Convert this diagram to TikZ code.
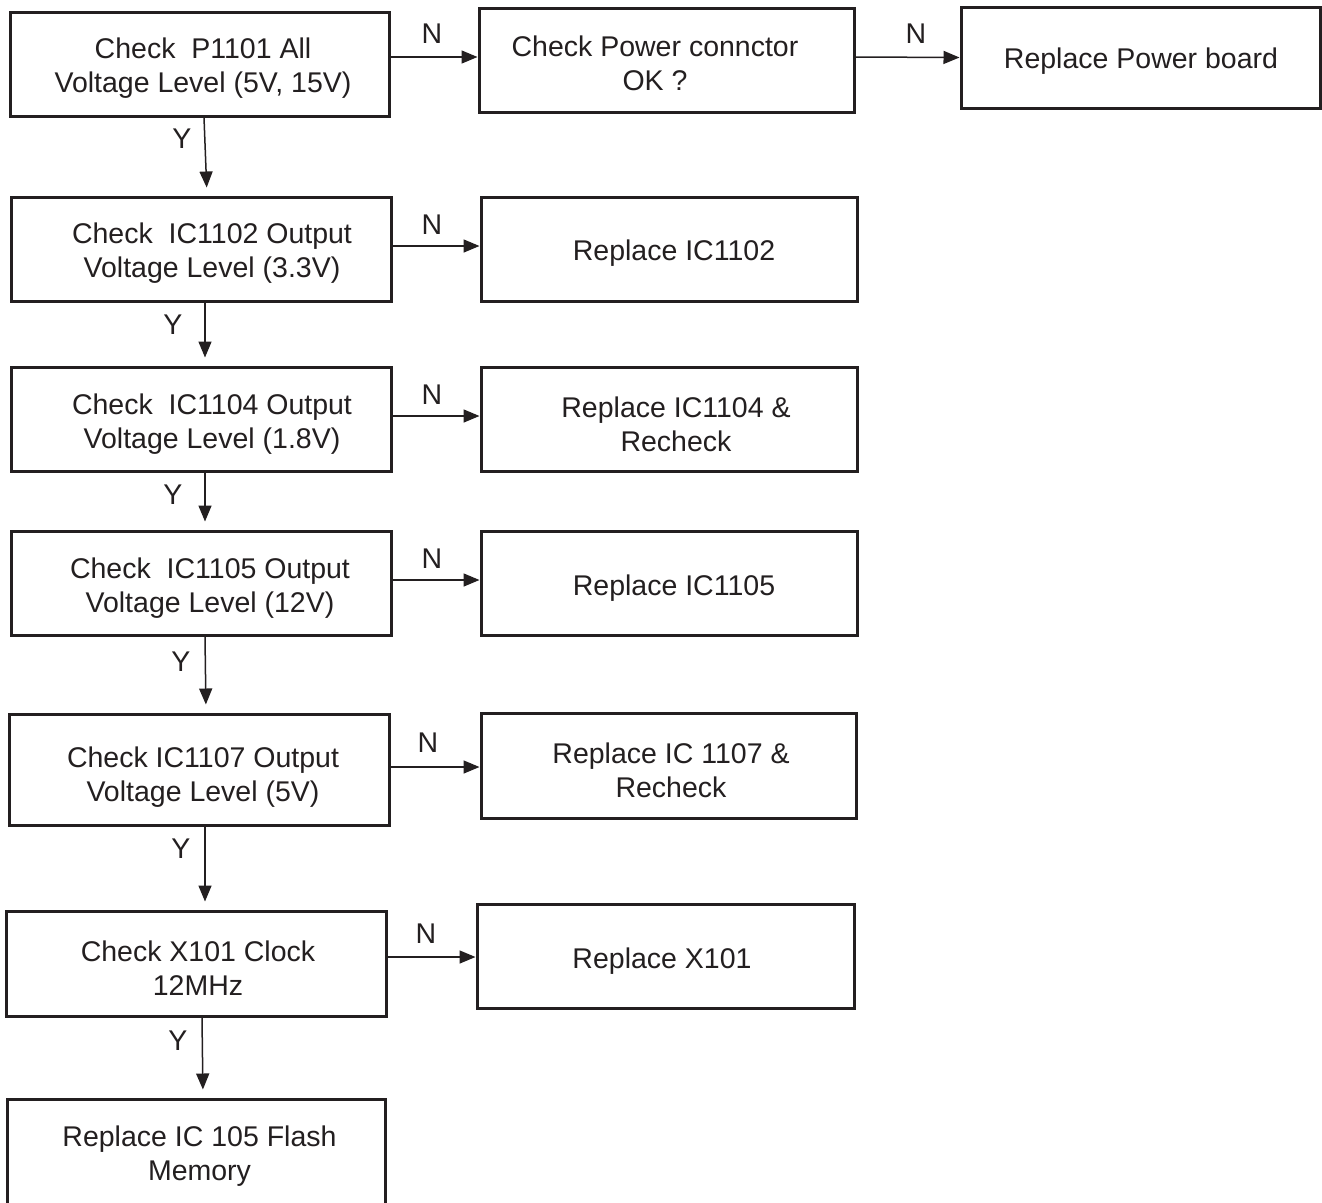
\documentclass[tikz,border=0pt]{standalone}
\usepackage{fontspec}
\setmainfont{Liberation Sans}
\usetikzlibrary{arrows.meta}
\definecolor{ink}{HTML}{231F20}
\tikzset{
  box/.style={draw=ink, line width=3pt, inner sep=0pt, rectangle},
  txt/.style={text=ink, align=center, inner sep=0pt, font=\fontsize{28.5}{34}\selectfont},
  lbl/.style={text=ink, inner sep=0pt, font=\fontsize{28.5}{34}\selectfont},
  arr/.style={draw=ink, line width=1.5pt, -{Triangle[length=16pt,width=13pt]}},
  varr/.style={arr, shorten >=8pt}
}
\begin{document}
\begin{tikzpicture}[x=1pt,y=-1pt]
\useasboundingbox (0,0) rectangle (1322,1202);
\fill[white] (0,0) rectangle (1322,1202);
% boxes
\node[box, minimum width=379pt, minimum height=104pt] (A) at (199.5,64) {};
\node[box, minimum width=375pt, minimum height=104pt] (B) at (666.5,60) {};
\node[box, minimum width=359pt, minimum height=101pt] (C) at (1140.5,57.5) {};
\node[box, minimum width=380pt, minimum height=104pt] (D) at (201,249) {};
\node[box, minimum width=376pt, minimum height=104pt] (E) at (669,249) {};
\node[box, minimum width=380pt, minimum height=104pt] (F) at (201,419) {};
\node[box, minimum width=376pt, minimum height=104pt] (G) at (669,419) {};
\node[box, minimum width=380pt, minimum height=104pt] (H) at (201,583) {};
\node[box, minimum width=376pt, minimum height=104pt] (I) at (669,583) {};
\node[box, minimum width=380pt, minimum height=111pt] (J) at (199,769.5) {};
\node[box, minimum width=375pt, minimum height=105pt] (K) at (668.5,765.5) {};
\node[box, minimum width=380pt, minimum height=105pt] (L) at (196,963.5) {};
\node[box, minimum width=377pt, minimum height=104pt] (M) at (665.5,956) {};
\node[box, minimum width=378pt, minimum height=112pt] (O) at (196,1155) {};
% texts
\node[txt] (tA) at (203,68.5) {Check\ \ P1101 All\\Voltage Level (5V, 15V)};
\node[txt] (tB) at (655,63) {Check Power connctor\\OK ?};
\node[txt] (tC) at (1141,61) {Replace Power board};
\node[txt] (tD) at (212,253) {Check\ \ IC1102 Output\\Voltage Level (3.3V)};
\node[txt] (tE) at (674,253) {Replace IC1102};
\node[txt] (tF) at (212,424) {Check\ \ IC1104 Output\\Voltage Level (1.8V)};
\node[txt] (tG) at (676,424.5) {Replace IC1104 \&\\Recheck};
\node[txt] (tH) at (210,588.5) {Check\ \ IC1105 Output\\Voltage Level (12V)};
\node[txt] (tI) at (674,588) {Replace IC1105};
\node[txt] (tJ) at (203,777) {Check IC1107 Output\\Voltage Level (5V)};
\node[txt] (tK) at (671,770.5) {Replace IC 1107 \&\\Recheck};
\node[txt] (tL) at (198,968) {Check X101 Clock\\12MHz};
\node[txt] (tM) at (662,961) {Replace X101};
\node[txt] (tO) at (199.5,1156.5) {Replace IC 105 Flash\\Memory};
% horizontal N arrows
\draw[arr] ([yshift=7pt]A.east) -- ([yshift=3pt]B.west);
\draw[arr] ([yshift=3pt]B.east) -- ([yshift=0pt]C.west);
\draw[arr] ([yshift=3pt]D.east) -- ([yshift=3pt]E.west);
\draw[arr] ([yshift=3pt]F.east) -- ([yshift=3pt]G.west);
\draw[arr] ([yshift=3pt]H.east) -- ([yshift=3pt]I.west);
\draw[arr] ([yshift=2.5pt]J.east) -- ([yshift=-1.5pt]K.west);
\draw[arr] ([yshift=6.5pt]L.east) -- ([yshift=-1pt]M.west);
% vertical Y arrows
\draw[varr] ([xshift=4.5pt]A.south) -- ([xshift=6pt]D.north);
\draw[varr] ([xshift=4pt]D.south) -- ([xshift=4pt]F.north);
\draw[varr] ([xshift=4pt]F.south) -- ([xshift=4pt]H.north);
\draw[varr] ([xshift=4pt]H.south) -- ([xshift=7pt]J.north);
\draw[varr] ([xshift=6pt]J.south) -- ([xshift=9pt]L.north);
\draw[varr] ([xshift=6pt]L.south) -- ([xshift=7pt]O.north);
% labels
\node[lbl] (n1) at (432,34) {N};
\node[lbl] (n2) at (916,34) {N};
\node[lbl] (n3) at (432,225) {N};
\node[lbl] (n4) at (432,395) {N};
\node[lbl] (n5) at (432,559) {N};
\node[lbl] (n6) at (428,743) {N};
\node[lbl] (n7) at (426,934) {N};
\node[lbl] (y1) at (182,139) {Y};
\node[lbl] (y2) at (173,325) {Y};
\node[lbl] (y3) at (173,495) {Y};
\node[lbl] (y4) at (181,662) {Y};
\node[lbl] (y5) at (181,849) {Y};
\node[lbl] (y6) at (178,1041) {Y};
\end{tikzpicture}
\end{document}
